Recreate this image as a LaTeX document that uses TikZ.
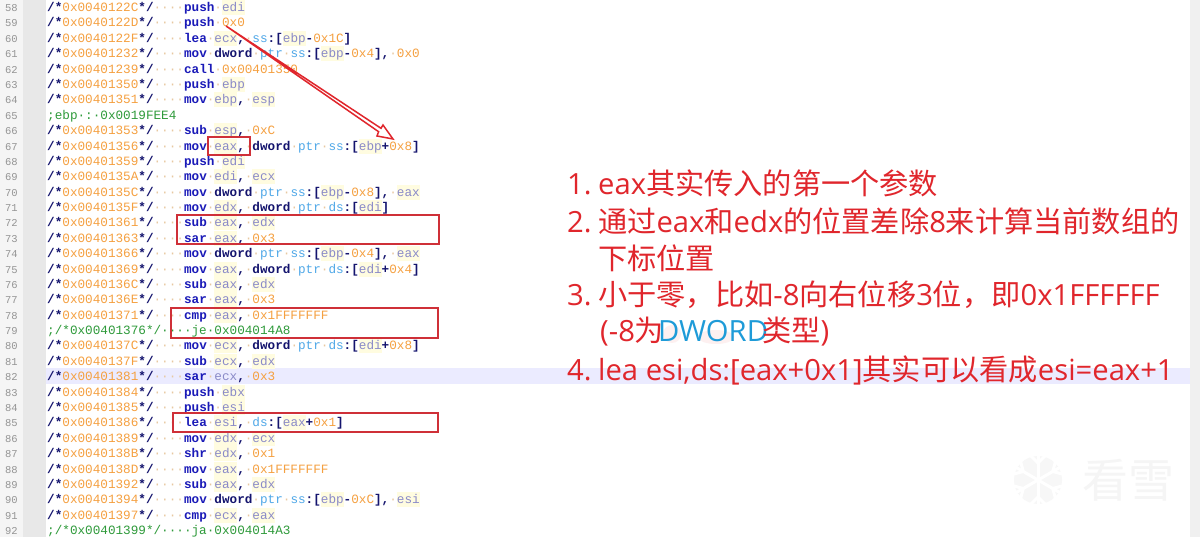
\documentclass[tikz,border=0pt]{standalone}
\usepackage{fontspec}
\usepackage{xcolor}
\setmainfont{Open Sans}
\newfontfamily\cjk{Noto Sans CJK SC}
\newfontfamily\codefont{Liberation Mono}
\definecolor{hl}{HTML}{FFFCE0}
\definecolor{kwc}{HTML}{1A1AB8}
\definecolor{regc}{HTML}{8A8AC8}
\definecolor{numc}{HTML}{F5A040}
\definecolor{navy}{HTML}{14146E}
\definecolor{ptrc}{HTML}{4FA8E8}
\definecolor{grn}{HTML}{2E9A3A}
\definecolor{dotc}{HTML}{E8C8A0}
\definecolor{notec}{HTML}{E0262C}
\definecolor{boxc}{HTML}{CF3038}
\definecolor{dwc}{HTML}{1E9BD8}
\setlength\fboxsep{0pt}
\newcommand\cD{\textcolor{dotc}{·}}
\newcommand\cS[1]{\textcolor{navy}{\bfseries #1}}
\newcommand\cA[1]{\cS{/*}\textcolor{numc}{#1}\cS{*/}\cD\cD\cD\cD}
\newcommand\cK[1]{\textcolor{kwc}{\bfseries #1}}
\newcommand\cH[1]{\colorbox{hl}{\rule[-3.5pt]{0pt}{15pt}#1}}
\newcommand\cR[1]{\cH{\textcolor{regc}{#1}}}
\newcommand\cN[1]{\textcolor{numc}{#1}}
\newcommand\cT[1]{\textcolor{navy}{\bfseries #1}}
\newcommand\cP[1]{\textcolor{ptrc}{#1}}
\newcommand\cG[1]{\textcolor{grn}{#1}}
\newcommand\cl[2]{\pgfmathsetmacro\yy{11.6+(#1-58)*15.38}%
  \node[lnum] (n#1) at (18,\yy) {#1};%
  \node[codeline] (c#1) at (47,\yy) {#2};}
\tikzset{
  x=1pt,y=-1pt,
  lnum/.style={anchor=base east,inner sep=0pt,font=\codefont\fontsize{10.5}{12}\selectfont,text=black!42},
  codeline/.style={anchor=base west,inner sep=0pt,font=\codefont\fontsize{12.67}{15}\selectfont},
  mark box/.style={draw=boxc,line width=1.5pt},
  note/.style={anchor=base west,inner sep=0pt,text=notec,font=\fontsize{29.2}{34}\selectfont},
  flake/.style={line cap=round,line width=3pt,draw=white},
}
\begin{document}
\begin{tikzpicture}
\useasboundingbox (0,0) rectangle (1200,537);
\fill[white] (0,0) rectangle (1200,537);
\fill[black!4] (0,0) rectangle (23,537);
\fill[black!9] (23,0) rectangle (46,537);
\fill[black!6] (1190,0) rectangle (1200,537);
\fill[blue!8!white] (46,368) rectangle (1190,384);

\cl{58}{\cA{0x0040122C}\cK{push}\cD\cR{edi}}
\cl{59}{\cA{0x0040122D}\cK{push}\cD\cN{0x0}}
\cl{60}{\cA{0x0040122F}\cK{lea}\cD\cR{ecx}\cS{,}\cD\cP{ss}\cS{:[}\cR{ebp}\cS{-}\cN{0x1C}\cS{]}}
\cl{61}{\cA{0x00401232}\cK{mov}\cD\cT{dword}\cD\cP{ptr}\cD\cP{ss}\cS{:[}\cR{ebp}\cS{-}\cN{0x4}\cS{],}\cD\cN{0x0}}
\cl{62}{\cA{0x00401239}\cK{call}\cD\cN{0x00401350}}
\cl{63}{\cA{0x00401350}\cK{push}\cD\cR{ebp}}
\cl{64}{\cA{0x00401351}\cK{mov}\cD\cR{ebp}\cS{,}\cD\cR{esp}}
\cl{65}{\cG{;ebp·:·0x0019FEE4}}
\cl{66}{\cA{0x00401353}\cK{sub}\cD\cR{esp}\cS{,}\cD\cN{0xC}}
\cl{67}{\cA{0x00401356}\cK{mov}\cD\cR{eax}\cS{,}\cD\cT{dword}\cD\cP{ptr}\cD\cP{ss}\cS{:[}\cR{ebp}\cS{+}\cN{0x8}\cS{]}}
\cl{68}{\cA{0x00401359}\cK{push}\cD\cR{edi}}
\cl{69}{\cA{0x0040135A}\cK{mov}\cD\cR{edi}\cS{,}\cD\cR{ecx}}
\cl{70}{\cA{0x0040135C}\cK{mov}\cD\cT{dword}\cD\cP{ptr}\cD\cP{ss}\cS{:[}\cR{ebp}\cS{-}\cN{0x8}\cS{],}\cD\cR{eax}}
\cl{71}{\cA{0x0040135F}\cK{mov}\cD\cR{edx}\cS{,}\cD\cT{dword}\cD\cP{ptr}\cD\cP{ds}\cS{:[}\cR{edi}\cS{]}}
\cl{72}{\cA{0x00401361}\cK{sub}\cD\cR{eax}\cS{,}\cD\cR{edx}}
\cl{73}{\cA{0x00401363}\cK{sar}\cD\cR{eax}\cS{,}\cD\cN{0x3}}
\cl{74}{\cA{0x00401366}\cK{mov}\cD\cT{dword}\cD\cP{ptr}\cD\cP{ss}\cS{:[}\cR{ebp}\cS{-}\cN{0x4}\cS{],}\cD\cR{eax}}
\cl{75}{\cA{0x00401369}\cK{mov}\cD\cR{eax}\cS{,}\cD\cT{dword}\cD\cP{ptr}\cD\cP{ds}\cS{:[}\cR{edi}\cS{+}\cN{0x4}\cS{]}}
\cl{76}{\cA{0x0040136C}\cK{sub}\cD\cR{eax}\cS{,}\cD\cR{edx}}
\cl{77}{\cA{0x0040136E}\cK{sar}\cD\cR{eax}\cS{,}\cD\cN{0x3}}
\cl{78}{\cA{0x00401371}\cK{cmp}\cD\cR{eax}\cS{,}\cD\cN{0x1FFFFFFF}}
\cl{79}{\cG{;/*0x00401376*/····je·0x004014A8}}
\cl{80}{\cA{0x0040137C}\cK{mov}\cD\cR{ecx}\cS{,}\cD\cT{dword}\cD\cP{ptr}\cD\cP{ds}\cS{:[}\cR{edi}\cS{+}\cN{0x8}\cS{]}}
\cl{81}{\cA{0x0040137F}\cK{sub}\cD\cR{ecx}\cS{,}\cD\cR{edx}}
\cl{82}{\cA{0x00401381}\cK{sar}\cD\textcolor{regc}{ecx}\cS{,}\cD\cN{0x3}}
\cl{83}{\cA{0x00401384}\cK{push}\cD\cR{ebx}}
\cl{84}{\cA{0x00401385}\cK{push}\cD\cR{esi}}
\cl{85}{\cA{0x00401386}\cK{lea}\cD\cR{esi}\cS{,}\cD\cP{ds}\cS{:[}\cR{eax}\cS{+}\cN{0x1}\cS{]}}
\cl{86}{\cA{0x00401389}\cK{mov}\cD\cR{edx}\cS{,}\cD\cR{ecx}}
\cl{87}{\cA{0x0040138B}\cK{shr}\cD\cR{edx}\cS{,}\cD\cN{0x1}}
\cl{88}{\cA{0x0040138D}\cK{mov}\cD\cR{eax}\cS{,}\cD\cN{0x1FFFFFFF}}
\cl{89}{\cA{0x00401392}\cK{sub}\cD\cR{eax}\cS{,}\cD\cR{edx}}
\cl{90}{\cA{0x00401394}\cK{mov}\cD\cT{dword}\cD\cP{ptr}\cD\cP{ss}\cS{:[}\cR{ebp}\cS{-}\cN{0xC}\cS{],}\cD\cR{esi}}
\cl{91}{\cA{0x00401397}\cK{cmp}\cD\cR{ecx}\cS{,}\cD\cR{eax}}
\cl{92}{\cG{;/*0x00401399*/····ja·0x004014A3}}

% red boxes
\draw[mark box] (208,137) rectangle (250,155);
\draw[mark box] (177,215) rectangle (439,244);
\draw[mark box] (171,308) rectangle (438,338);
\draw[mark box] (173,413) rectangle (438,432);

% hollow arrow, solid at the tail
\coordinate (arrowtail) at (226,26);
\coordinate (arrowtip) at (393,139);
\draw[draw=notec,line width=1.5pt,fill=white,line join=miter]
  (arrowtail) -- (381,128.3) -- (383,125) -- (arrowtip) -- (377,136) -- (378.6,131.7) -- cycle;

% notes
\node[note] (m1) at (567,195) {1.};
\node[note] (t1) at (598,195) {eax{\cjk 其实传入的第一个参数}};
\node[note] (m2) at (567,233) {2.};
\node[note] (t2) at (598,233) {{\cjk 通过}eax{\cjk 和}edx{\cjk 的位置差除}8{\cjk 来计算当前数组的}};
\node[note] (t2b) at (598,270) {\cjk 下标位置};
\node[note] (m3) at (567,306) {3.};
\node[note] (t3) at (598,306) {{\cjk 小于零，比如}-8{\cjk 向右位移}3{\cjk 位，即}0x1FFFFFF};
\fill[notec!7] (672,334) ellipse (9 and 9);
\fill[notec!7] (716,337) ellipse (18 and 7);
\node[note] (t3a) at (600,342) {(-8{\cjk 为}};
\node[note,text=dwc] (t3b) at (658,342) {DWORD};
\node[note] (t3c) at (762,342) {{\cjk 类型})};
\node[note] (m4) at (567,381) {4.};
\node[note] (t4) at (598,381) {lea esi,ds:[eax+0x1]{\cjk 其实可以看成}esi=eax+1};

% watermark
\fill[black!3] (1038,480) circle (24);
\foreach \a in {30,90,150,210,270,330}{
  \draw[flake] (1038,480) -- ++(\a:30);
  \draw[flake] (1038,480) ++(\a:17) -- ++(\a+45:10);
  \draw[flake] (1038,480) ++(\a:17) -- ++(\a-45:10);
}
\node[inner sep=0pt,text=black!4,font=\cjk\fontsize{46}{50}\selectfont] (wm) at (1128,480) {看雪};
\end{tikzpicture}
\end{document}
